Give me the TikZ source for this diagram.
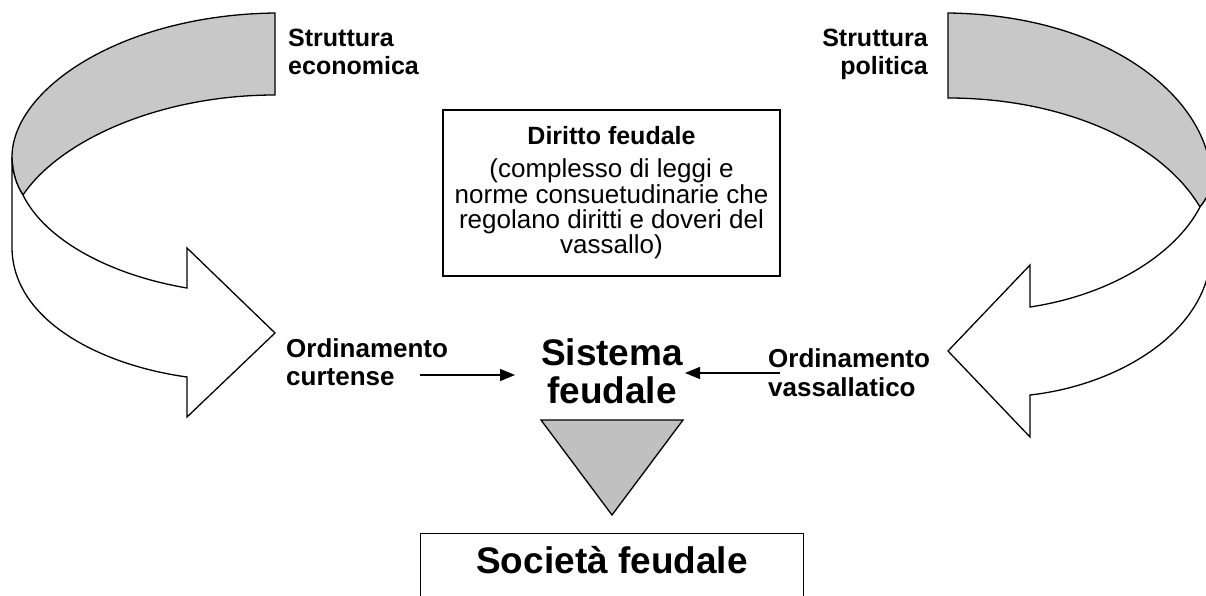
\documentclass[tikz,border=0pt]{standalone}
\usepackage{fontspec}
\setmainfont{Liberation Sans}
\usetikzlibrary{arrows.meta}
\definecolor{bandgray}{RGB}{200,200,200}
\definecolor{trigray}{RGB}{192,192,192}
\tikzset{
  band/.style={draw=black, line width=1.3pt, line join=miter},
  lbl/.style={inner sep=0pt, font=\fontsize{25}{28}\selectfont\bfseries},
  olbl/.style={inner sep=0pt, font=\fontsize{26}{28}\selectfont\bfseries},
  big/.style={inner sep=0pt, font=\fontsize{37}{38}\selectfont\bfseries},
  dtxt/.style={inner sep=0pt, font=\fontsize{26}{25}\selectfont},
  dhead/.style={inner sep=0pt, font=\fontsize{25}{28}\selectfont\bfseries},
  boxed/.style={draw=black, line width=1.3pt, inner sep=0pt},
  conn/.style={line width=1.3pt, -{Triangle[length=15pt,width=12pt]}}
}
\begin{document}
\begin{tikzpicture}[x=1pt,y=-1pt]
\useasboundingbox (0,0) rectangle (1206,596);
\begin{scope}
\clip (0,0) rectangle (1206,596);
% left curved arrow: gray back
\draw[band, fill=bandgray] (275,13) .. controls (120,15) and (12,90) .. (12,157)
  .. controls (12,170) and (16,185) .. (23,195)
  .. controls (60,140) and (160,95) .. (275,95) -- cycle;
% left curved arrow: white front
\draw[band, fill=white] (12,157) -- (12,247) .. controls (12,320) and (100,365) .. (187,377)
  -- (187,417) -- (275,333) -- (187,248) -- (187,288)
  .. controls (110,275) and (45,240) .. (23,195)
  .. controls (16,185) and (12,170) .. (12,157) -- cycle;
% right curved arrow: gray back
\draw[band, fill=bandgray] (948,13) .. controls (1110,15) and (1211,100) .. (1211,180)
  .. controls (1211,190) and (1206,200) .. (1200,207)
  .. controls (1160,140) and (1060,98) .. (948,98) -- cycle;
% right curved arrow: white front
\draw[band, fill=white] (1211,180) -- (1211,250) .. controls (1211,330) and (1120,385) .. (1030,395)
  -- (1030,437) -- (948,351) -- (1030,265) -- (1030,307)
  .. controls (1110,295) and (1175,255) .. (1200,207)
  .. controls (1206,200) and (1211,190) .. (1211,180) -- cycle;
% bottom box
\node[boxed, minimum width=383pt, minimum height=80pt, anchor=north west] (soc) at (420,533) {};
\end{scope}
\node[big, anchor=base] (soct) at (612,573) {Società feudale};
% triangle
\draw[band, fill=trigray] (541,420) -- (683,420) -- (612,515) -- cycle;
% labels
\node[lbl, anchor=base west] (se1) at (288,47) {Struttura};
\node[lbl, anchor=base west] (se2) at (288,75) {economica};
\node[lbl, anchor=base east] (sp1) at (928,47) {Struttura};
\node[lbl, anchor=base east] (sp2) at (928,75) {politica};
% diritto box
\node[boxed, minimum width=337pt, minimum height=166pt] (dir) at (611.5,193) {};
\node[dhead, anchor=base] (d0) at (611.5,145) {Diritto feudale};
\node[dtxt, anchor=base] (d1) at (611.5,178) {(complesso di leggi e};
\node[dtxt, anchor=base] (d2) at (611.5,203) {norme consuetudinarie che};
\node[dtxt, anchor=base] (d3) at (611.5,228) {regolano diritti e doveri del};
\node[dtxt, anchor=base] (d4) at (611.5,253) {vassallo)};
% sistema feudale
\node[big, anchor=base] (sf1) at (612,365) {Sistema};
\node[big, anchor=base] (sf2) at (612,403) {feudale};
% ordinamento labels
\node[olbl, anchor=base west] (oc1) at (286,357) {Ordinamento};
\node[olbl, anchor=base west] (oc2) at (286,385) {curtense};
\node[olbl, anchor=base west] (ov1) at (768,367) {Ordinamento};
\node[olbl, anchor=base west] (ov2) at (768,396) {vassallatico};
% connectors
\coordinate (ca) at (420,375);
\coordinate (cb) at (515,375);
\coordinate (va) at (780,373);
\coordinate (vb) at (685,373);
\draw[conn] (ca) -- (cb);
\draw[conn] (va) -- (vb);
\end{tikzpicture}
\end{document}
